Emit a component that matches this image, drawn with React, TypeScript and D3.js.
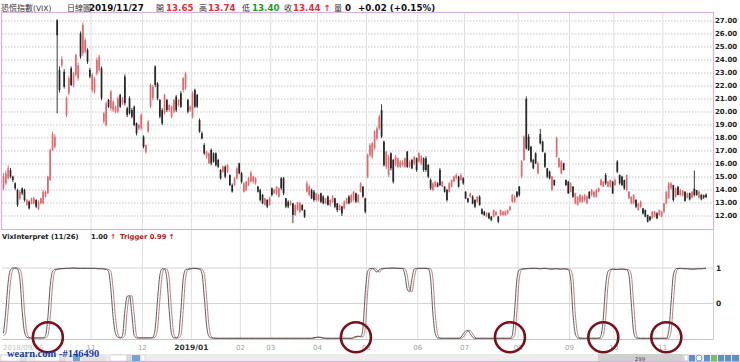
import React from "react";
import * as d3 from "d3";

type OHLC = [number, number, number, number]; // open, high, low, close

const sepOct2018: OHLC[] = [
  [14.13,15.3,14.0,15.03],[14.51,15.5,14.4,15.28],[14.9,15.9,14.8,15.67],[15.54,15.7,14.9,15.03],
  [15.03,15.1,14.6,14.77],[14.51,14.6,14.0,14.13],[14.0,14.1,12.7,12.85],[13.36,14.0,13.2,13.87],
  [14.13,14.2,13.6,13.74],[14.0,14.1,13.1,13.23],[12.85,13.3,12.8,13.23],[13.1,13.2,12.5,12.59],
  [12.97,13.4,12.9,13.36],[12.97,13.5,12.9,13.36],[13.23,13.3,12.6,12.72],[12.55,13.2,12.45,13.1],
  [12.97,13.4,12.9,13.36],[12.97,14.0,12.9,13.87],[13.49,13.95,13.4,13.87],[13.74,15.1,13.7,15.03],
  [14.77,17.2,14.7,17.08],[17.08,18.5,17.0,18.3],[17.33,18.3,17.2,18.1],[27.05,27.15,19.9,25.9],
  [23.23,23.5,21.5,21.69],[23.6,24.3,23.4,24.05],[23.1,23.3,21.8,21.95],[19.77,21.2,19.6,21.05],
  [21.44,22.8,21.3,22.59],[23.36,23.5,22.0,22.08],[22.08,23.1,21.9,22.97],[22.85,24.5,22.7,24.38],
  [22.59,23.8,22.4,23.6],[26.05,26.2,24.1,24.26],[24.51,26.9,24.3,26.7],[24.64,25.7,24.5,25.54],
  [24.77,24.9,23.7,23.87],[23.23,23.4,22.6,22.72],
];
const nov2018: OHLC[] = [
  [21.69,23.0,21.5,22.85],[21.56,22.7,21.4,22.59],[22.97,24.2,22.8,24.0],[23.23,24.4,23.1,24.26],
  [23.36,23.5,20.9,21.05],[19.26,20.0,19.1,19.9],[19.0,20.8,18.9,20.67],[20.92,21.0,20.3,20.41],
  [20.28,21.7,20.1,21.56],[20.15,20.9,20.0,20.79],[20.03,20.5,19.9,20.41],[20.03,21.2,19.9,21.05],
  [21.31,21.4,20.3,20.41],[20.67,21.15,20.55,21.05],[22.72,22.9,20.5,20.67],[20.28,20.4,19.6,19.77],
  [21.05,21.2,19.8,19.9],[20.15,20.3,19.5,19.64],[20.41,20.5,18.9,19.0],[19.13,19.2,18.2,18.36],
  [18.74,19.1,18.6,19.0],[18.74,19.9,18.6,19.77],
];
const dec2018: OHLC[] = [
  [18.1,18.2,17.2,17.33],[16.95,17.5,16.8,17.46],[18.49,19.4,18.4,19.26],[20.41,22.2,20.3,22.08],
  [21.05,22.1,20.9,21.95],[23.49,23.6,21.9,22.08],[22.2,22.3,20.9,21.05],[20.92,21.0,19.5,19.64],
  [20.15,20.3,19.0,19.13],[19.9,21.4,19.8,21.31],[20.92,21.0,20.0,20.15],[20.15,20.6,20.0,20.54],
  [19.64,20.5,19.5,20.41],[20.03,21.0,19.9,20.92],[21.18,21.3,20.0,20.15],[20.54,21.0,20.4,20.92],
  [21.44,21.6,20.3,20.41],[21.69,22.7,21.5,22.59],[21.82,23.1,21.7,22.97],[20.92,21.0,19.9,20.03],
  [20.15,20.5,20.0,20.41],
];
const jan2019: OHLC[] = [
  [19.64,21.6,19.5,21.44],[21.69,21.8,20.3,20.41],[21.31,21.4,20.3,20.41],[19.38,19.5,18.4,18.49],
  [18.36,18.5,17.9,17.97],[17.46,17.6,16.7,16.82],[16.56,17.0,16.4,16.95],[16.05,16.9,16.0,16.82],
  [17.08,17.2,15.9,16.05],[16.82,16.9,16.1,16.18],[16.82,16.9,15.8,15.92],[16.31,16.4,15.7,15.79],
  [15.54,15.6,14.8,14.9],[15.41,15.9,15.3,15.79],[15.79,15.9,14.9,15.03],[15.41,16.0,15.3,15.92],
  [15.15,15.2,14.3,14.38],[14.38,14.5,13.8,13.87],[14.38,15.0,14.3,14.9],[14.9,15.8,14.8,15.67],
  [16.05,16.1,15.2,15.28],
];
const feb2019: OHLC[] = [
  [15.28,15.4,14.5,14.64],[13.87,14.6,13.8,14.51],[14.0,14.7,13.9,14.64],[14.38,15.0,14.3,14.9],
  [14.64,15.5,14.6,15.33],[14.64,15.1,14.5,15.03],[14.51,15.0,14.4,14.9],[14.26,14.3,13.8,13.87],
  [14.0,14.1,13.1,13.23],[13.62,13.7,12.9,12.97],[12.85,13.4,12.8,13.36],[13.23,13.3,12.6,12.72],
  [12.85,13.5,12.8,13.36],
];
const mar2019: OHLC[] = [
  [14.13,14.2,13.5,13.62],[13.74,14.1,13.7,14.0],[13.74,14.3,13.6,14.26],[13.49,14.2,13.4,14.13],
  [14.9,15.0,14.0,14.13],[14.9,15.0,13.6,13.74],[13.36,13.4,12.6,12.72],[13.1,13.2,12.6,12.72],
  [12.85,13.2,12.8,13.1],[12.97,13.0,11.45,12.08],[12.08,12.9,12.0,12.85],[12.46,13.1,12.4,13.0],
  [12.33,13.1,12.2,13.0],[12.85,12.9,12.4,12.46],[12.46,12.5,11.85,11.95],[13.87,14.7,13.8,14.51],
  [13.62,14.4,13.5,14.26],[14.0,14.1,13.3,13.36],[13.87,14.0,13.1,13.23],[13.23,13.8,13.1,13.74],
];
const apr2019: OHLC[] = [
  [13.23,13.7,13.1,13.62],[13.74,13.8,13.0,13.1],[13.49,13.6,12.9,12.97],[12.97,13.4,12.9,13.36],
  [13.49,13.6,12.8,12.85],[12.85,13.3,12.7,13.23],[13.1,13.6,13.0,13.49],[13.36,13.4,12.6,12.72],
  [12.97,13.0,12.3,12.46],[12.46,12.9,12.4,12.85],[12.72,12.8,12.0,12.2],[12.59,13.2,12.5,13.1],
  [12.97,13.4,12.9,13.36],[13.49,13.6,12.9,12.97],[13.1,13.7,13.0,13.62],[13.23,13.9,13.1,13.87],
  [13.74,13.8,13.0,13.1],[13.1,13.7,13.0,13.62],[13.87,14.6,13.8,14.51],[14.26,14.3,13.4,13.49],
  [13.36,13.4,12.2,12.33],
];
const may2019: OHLC[] = [
  [15.03,16.8,14.9,16.69],[16.69,17.6,16.5,17.46],[16.56,17.7,16.4,17.59],[17.2,18.6,17.1,18.49],
  [17.97,18.9,17.8,18.74],[18.74,19.8,18.6,19.64],[20.15,20.6,18.0,18.1],[17.72,17.8,15.8,15.92],
  [15.79,17.0,15.6,16.95],[15.15,16.7,15.0,16.56],[16.82,16.9,15.5,15.67],[16.31,16.4,14.5,14.64],
  [15.92,16.7,15.8,16.56],[15.79,16.5,15.7,16.44],[15.79,16.3,15.7,16.18],[15.92,16.3,15.8,16.18],
  [15.79,16.5,15.7,16.44],[16.95,17.0,15.7,15.79],[15.79,16.3,15.7,16.18],[16.31,16.4,15.6,15.67],
  [16.05,16.6,15.9,16.56],[16.44,16.5,15.4,15.54],
];
const jun2019: OHLC[] = [
  [16.18,16.9,16.1,16.82],[16.05,16.7,15.9,16.56],[16.44,16.5,15.4,15.54],[16.44,16.6,15.4,15.54],
  [15.92,16.0,14.9,15.03],[14.77,14.9,14.0,14.13],[14.0,14.6,13.9,14.51],[14.26,14.7,14.2,14.64],
  [14.51,14.6,14.2,14.26],[15.54,15.7,14.3,14.38],[14.26,14.7,14.2,14.64],[14.26,14.3,13.8,13.87],
  [14.0,14.1,13.1,13.23],[13.87,14.6,13.8,14.51],[14.26,14.8,14.2,14.77],[14.64,15.1,14.6,15.03],
  [14.9,15.3,14.8,15.15],[15.03,15.1,14.2,14.26],[14.77,15.3,14.7,15.15],[14.9,15.0,14.4,14.51],
];
const jul2019: OHLC[] = [
  [13.87,13.9,13.3,13.36],[13.36,13.4,13.0,13.1],[13.49,13.8,13.4,13.74],[13.49,13.6,12.9,12.97],
  [13.23,13.3,12.6,12.72],[13.1,13.5,13.0,13.49],[13.49,13.6,12.8,12.85],[12.52,12.6,12.1,12.16],
  [12.33,12.4,12.0,12.08],[11.95,12.3,11.9,12.2],[12.2,12.3,11.75,11.82],[11.95,12.0,11.6,11.69],
  [11.95,12.5,11.9,12.46],[12.08,12.4,12.0,12.33],[11.95,12.0,11.45,11.56],[12.08,12.5,12.0,12.46],
  [12.08,12.4,12.0,12.33],[12.08,12.45,12.0,12.33],[12.2,12.5,12.1,12.46],[12.46,12.8,12.4,12.72],
  [13.1,13.7,13.0,13.62],[13.1,13.6,13.0,13.49],[13.87,13.9,13.4,13.49],
];
const aug2019: OHLC[] = [
  [14.26,14.3,13.5,13.62],[15.03,16.3,14.9,16.18],[16.31,18.2,16.2,18.1],[21.0,21.2,17.1,17.2],
  [18.1,18.3,17.0,17.08],[17.33,17.4,16.1,16.18],[16.31,16.4,15.6,15.67],[16.82,16.9,16.0,16.05],
  [15.28,16.2,15.2,16.05],[18.3,18.7,17.5,17.59],[17.72,17.8,16.9,16.95],[16.82,16.9,15.7,15.79],
  [15.67,15.7,14.9,15.03],[15.41,15.5,14.8,14.9],[14.0,15.1,13.9,15.03],[14.77,14.8,14.3,14.38],
  [16.56,18.1,16.5,17.97],[15.79,16.5,15.7,16.44],[15.28,16.3,15.2,16.18],[16.05,16.1,15.5,15.54],
  [14.77,14.8,14.3,14.38],[14.64,14.7,13.7,13.74],
];
const sep2019: OHLC[] = [
  [13.87,14.6,13.8,14.51],[14.26,14.3,13.4,13.49],[12.97,13.8,12.9,13.74],[12.85,13.5,12.8,13.49],
  [13.1,13.7,13.0,13.62],[13.1,13.6,13.0,13.49],[13.23,13.7,13.1,13.62],[12.97,13.6,12.9,13.49],
  [13.87,13.9,13.3,13.36],[13.62,14.1,13.5,14.0],[13.49,13.9,13.4,13.87],[13.49,14.1,13.4,14.0],
  [13.87,14.2,13.8,14.13],[14.38,14.9,14.3,14.77],[14.26,14.7,14.2,14.64],[15.15,15.3,14.4,14.51],
  [14.26,14.7,14.2,14.64],[14.26,14.8,14.2,14.77],[14.64,14.7,13.7,13.74],
];
const oct2019: OHLC[] = [
  [14.38,14.9,14.3,14.77],[16.18,16.3,15.3,15.41],[15.15,15.2,14.4,14.51],[15.03,15.1,14.3,14.38],
  [14.77,14.8,14.0,14.13],[14.0,15.2,13.9,15.15],[13.36,13.9,13.3,13.87],[12.97,13.5,12.9,13.49],
  [12.97,13.7,12.9,13.62],[13.23,13.3,12.6,12.72],[12.46,13.0,12.4,12.97],[12.72,13.2,12.6,13.1],
  [12.59,12.6,12.1,12.2],[12.46,12.5,11.9,11.95],[12.08,12.1,11.5,11.56],[11.95,12.0,11.6,11.69],
  [11.82,12.4,11.8,12.33],[11.95,12.4,11.9,12.33],[12.2,12.3,11.75,11.82],[12.08,12.5,12.0,12.46],
  [11.95,12.4,11.9,12.33],
];
const nov2019: OHLC[] = [
  [12.33,13.0,12.2,12.97],[12.97,13.9,12.9,13.87],[13.36,14.6,13.3,14.51],[14.13,14.6,14.0,14.51],
  [14.38,14.4,13.1,13.23],[13.49,14.2,13.4,14.13],[14.26,14.3,13.6,13.62],[13.62,14.1,13.5,14.0],
  [13.59,14.0,13.5,13.92],[13.87,13.9,13.1,13.16],[13.4,13.8,13.35,13.75],[13.75,13.8,13.2,13.28],
  [13.4,13.9,13.35,13.87],[14.1,15.5,13.5,13.6],[13.99,14.0,13.55,13.63],[13.4,13.95,13.35,13.87],
  [13.63,13.7,13.2,13.28],[13.6,13.65,13.3,13.42],[13.65,13.74,13.4,13.44],
];

const monthLabels = ["2018/09/06","11","12","2019/01","02","03","04","05","06","07","08","09","10","11"];
const monthBarCounts = [38,22,21,21,13,20,21,22,20,23,22,19,21,19];
const boldMonth = "2019/01";

const priceTicks = [12,13,14,15,16,17,18,19,20,21,22,23,24,25,26,27];
const indicatorTicks = [1, 0];

const vixInterpret = [
  -0.84,-0.2,0.6,0.95,1.0,1.0,0.97,0.7,-0.2,-0.8,
  -0.95,-0.97,-0.97,-0.97,-0.97,-0.97,-0.97,-0.97,-0.9,-0.4,
  0.5,0.9,0.96,0.97,0.98,0.98,0.99,0.99,0.99,1.0,
  1.0,0.99,0.99,0.99,0.99,0.99,0.99,0.99,0.99,0.99,
  0.98,0.98,0.98,0.97,0.96,0.9,0.4,-0.4,-0.85,-0.95,
  -0.97,-0.9,-0.2,0.2,0.22,-0.3,-0.9,-0.97,-0.97,-0.97,
  -0.97,-0.97,-0.97,-0.97,-0.95,-0.7,0.1,0.8,0.98,0.97,
  0.7,-0.2,-0.85,-0.97,-0.97,-0.9,-0.2,0.7,0.95,0.97,
  0.98,0.99,0.99,0.98,0.97,0.85,0.2,-0.6,-0.93,-0.97,
  -0.98,-0.98,-0.98,-0.98,-0.98,-0.98,-0.98,-0.98,-0.98,-0.98,
  -0.98,-0.98,-0.98,-0.98,-0.98,-0.98,-0.98,-0.98,-0.98,-0.98,
  -0.98,-0.98,-0.98,-0.98,-0.98,-0.98,-0.98,-0.98,-0.98,-0.98,
  -0.98,-0.98,-0.98,-0.98,-0.98,-0.98,-0.98,-0.98,-0.98,-0.98,
  -0.98,-0.98,-0.98,-0.96,-0.95,-0.95,-0.96,-0.98,-0.98,-0.98,
  -0.98,-0.98,-0.98,-0.98,-0.98,-0.98,-0.98,-0.98,-0.98,-0.98,
  -0.95,-0.93,-0.92,-0.94,-0.7,0.3,0.9,0.98,0.99,0.95,
  0.88,0.95,0.98,0.99,0.99,0.99,1.0,1.0,0.99,0.99,
  0.99,0.98,0.8,0.4,0.33,0.7,0.97,0.99,0.99,0.99,
  0.99,0.99,0.98,0.7,-0.3,-0.85,-0.97,-0.98,-0.98,-0.98,
  -0.98,-0.98,-0.98,-0.98,-0.98,-0.98,-0.95,-0.85,-0.78,-0.76,
  -0.85,-0.95,-0.98,-0.98,-0.98,-0.98,-0.98,-0.98,-0.98,-0.98,
  -0.98,-0.98,-0.98,-0.98,-0.98,-0.98,-0.98,-0.98,-0.9,-0.2,
  0.7,0.95,0.97,0.98,0.98,0.99,0.99,0.99,0.99,0.98,
  0.98,0.99,0.99,0.98,0.97,0.97,0.98,0.98,0.97,0.97,
  0.98,0.97,0.95,0.7,-0.3,-0.85,-0.97,-0.98,-0.98,-0.98,
  -0.98,-0.98,-0.98,-0.98,-0.98,-0.98,-0.9,-0.4,0.5,0.9,
  0.96,0.97,0.96,0.96,0.97,0.97,0.96,0.95,0.8,0.0,
  -0.8,-0.97,-0.98,-0.98,-0.98,-0.98,-0.98,-0.98,-0.98,-0.98,
  -0.98,-0.98,-0.98,-0.98,-0.98,-0.8,0.0,0.8,0.97,0.99,
  0.99,0.98,0.98,0.98,0.97,0.97,0.97,0.98,0.98,0.98,
  0.99,1.0,
];
const trigger = [
  -0.9,-0.84,-0.2,0.6,0.95,1.0,1.0,0.97,0.7,-0.2,
  -0.8,-0.95,-0.97,-0.97,-0.97,-0.97,-0.97,-0.97,-0.97,-0.9,
  -0.4,0.5,0.9,0.96,0.97,0.98,0.98,0.99,0.99,0.99,
  1.0,1.0,0.99,0.99,0.99,0.99,0.99,0.99,0.99,0.99,
  0.99,0.98,0.98,0.98,0.97,0.96,0.9,0.4,-0.4,-0.85,
  -0.95,-0.97,-0.9,-0.2,0.2,0.22,-0.3,-0.9,-0.97,-0.97,
  -0.97,-0.97,-0.97,-0.97,-0.97,-0.95,-0.7,0.1,0.8,0.98,
  0.97,0.7,-0.2,-0.85,-0.97,-0.97,-0.9,-0.2,0.7,0.95,
  0.97,0.98,0.99,0.99,0.98,0.97,0.85,0.2,-0.6,-0.93,
  -0.97,-0.98,-0.98,-0.98,-0.98,-0.98,-0.98,-0.98,-0.98,-0.98,
  -0.98,-0.98,-0.98,-0.98,-0.98,-0.98,-0.98,-0.98,-0.98,-0.98,
  -0.98,-0.98,-0.98,-0.98,-0.98,-0.98,-0.98,-0.98,-0.98,-0.98,
  -0.98,-0.98,-0.98,-0.98,-0.98,-0.98,-0.98,-0.98,-0.98,-0.98,
  -0.98,-0.98,-0.98,-0.98,-0.96,-0.95,-0.95,-0.96,-0.98,-0.98,
  -0.98,-0.98,-0.98,-0.98,-0.98,-0.98,-0.98,-0.98,-0.98,-0.98,
  -0.98,-0.95,-0.93,-0.92,-0.94,-0.7,0.3,0.9,0.98,0.99,
  0.95,0.88,0.95,0.98,0.99,0.99,0.99,1.0,1.0,0.99,
  0.99,0.99,0.98,0.8,0.4,0.33,0.7,0.97,0.99,0.99,
  0.99,0.99,0.99,0.98,0.7,-0.3,-0.85,-0.97,-0.98,-0.98,
  -0.98,-0.98,-0.98,-0.98,-0.98,-0.98,-0.98,-0.95,-0.85,-0.78,
  -0.76,-0.85,-0.95,-0.98,-0.98,-0.98,-0.98,-0.98,-0.98,-0.98,
  -0.98,-0.98,-0.98,-0.98,-0.98,-0.98,-0.98,-0.98,-0.98,-0.9,
  -0.2,0.7,0.95,0.97,0.98,0.98,0.99,0.99,0.99,0.99,
  0.98,0.98,0.99,0.99,0.98,0.97,0.97,0.98,0.98,0.97,
  0.97,0.98,0.97,0.95,0.7,-0.3,-0.85,-0.97,-0.98,-0.98,
  -0.98,-0.98,-0.98,-0.98,-0.98,-0.98,-0.98,-0.9,-0.4,0.5,
  0.9,0.96,0.97,0.96,0.96,0.97,0.97,0.96,0.95,0.8,
  0.0,-0.8,-0.97,-0.98,-0.98,-0.98,-0.98,-0.98,-0.98,-0.98,
  -0.98,-0.98,-0.98,-0.98,-0.98,-0.98,-0.8,0.0,0.8,0.97,
  0.99,0.99,0.98,0.98,0.98,0.97,0.97,0.97,0.98,0.98,
  0.98,0.99,
];

const circledBars = [19, 151, 217, 257, 284];
const circledLevel = -0.95;

const headerTitleCjk = "恐慌指數";
const headerTitleLatin = "(VIX)";
const headerPeriod = "日線圖";
const headerDate = "2019/11/27";
const headerChange = "+0.02 (+0.15%)";
const headerVolume = "0";
const indicatorName = "VixInterpret (11/26)";
const indicatorValue = "1.00";
const triggerValue = "0.99";
const watermark = "wearn.com -#146490";
const barCountLabel = "299";

const UI = "'DejaVu Sans', Verdana, sans-serif";
const CJK = "'Noto Sans CJK TC', 'Noto Sans CJK SC', sans-serif";
const RED = "#e0303a";
const GREEN = "#1f9a2a";
const UP = "#e06a6e";
const DOWN = "#262626";
const FRAME = "#d9aee0";

export default function App() {
  const candles: OHLC[] = [
    ...sepOct2018, ...nov2018, ...dec2018, ...jan2019, ...feb2019, ...mar2019, ...apr2019,
    ...may2019, ...jun2019, ...jul2019, ...aug2019, ...sep2019, ...oct2019, ...nov2019,
  ];
  const n = candles.length;
  const left = 2, right = 713, top = 13, bottom = 229;
  const x = d3.scaleLinear().domain([0, n - 1]).range([3.5, 706]);
  const y = d3.scaleLinear().domain([11, 27.615]).range([bottom, top]);
  const yi = d3.scaleLinear().domain([-1, 1]).range([339, 268]);
  const starts: number[] = [];
  monthBarCounts.reduce((acc, c) => { starts.push(acc); return acc + c; }, 0);

  const line = d3.line<number>().x((_, i) => x(i)).y((v) => yi(v)).curve(d3.curveMonotoneX);
  const last = candles[n - 1];
  const bw = 1.7;

  return (
    <svg width={740} height={362} style={{ position: "absolute", left: 0, top: 0, background: "#fff" }}
      fontFamily={UI}>
      <rect x={0} y={0} width={740} height={362} fill="#fff" />
      {/* header */}
      <g>
        <text x={1} y={11} fontFamily={CJK} fontSize={8} fill="#333">{headerTitleCjk}<tspan fontFamily={UI} fontSize={7.5}>{headerTitleLatin}</tspan></text>
        <text x={67} y={11} fontFamily={CJK} fontSize={8} fill="#333">{headerPeriod}</text>
        <text x={89} y={11} fontWeight="bold" fontSize={8.7} fill="#111">{headerDate}</text>
        <text x={156} y={11} fontFamily={CJK} fontSize={8} fill="#333">開</text>
        <text x={166} y={11} fontWeight="bold" fontSize={8.7} fill={RED}>{last[0].toFixed(2)}</text>
        <text x={199} y={11} fontFamily={CJK} fontSize={8} fill="#333">高</text>
        <text x={208} y={11} fontWeight="bold" fontSize={8.7} fill={RED}>{last[1].toFixed(2)}</text>
        <text x={242} y={11} fontFamily={CJK} fontSize={8} fill="#333">低</text>
        <text x={252} y={11} fontWeight="bold" fontSize={8.7} fill={GREEN}>{last[2].toFixed(2)}</text>
        <text x={284} y={11} fontFamily={CJK} fontSize={8} fill="#333">收</text>
        <text x={293} y={11} fontWeight="bold" fontSize={8.7} fill={RED}>{last[3].toFixed(2)} ↑</text>
        <text x={334} y={11} fontFamily={CJK} fontSize={8} fill="#333">量</text>
        <text x={345} y={11} fontWeight="bold" fontSize={8.7} fill="#111">{headerVolume}</text>
        <text x={358} y={11} fontWeight="bold" fontSize={8.7} fill="#111">{headerChange}</text>
      </g>

      {/* main panel grid */}
      {priceTicks.map((t) => (
        <line key={"hg" + t} x1={left} x2={right} y1={y(t)} y2={y(t)} stroke="#b8b8b8"
          strokeWidth={0.8} strokeDasharray="1.5,1.5" />
      ))}
      {starts.slice(1).map((s, k) => (
        <line key={"vg" + k} x1={x(s - 0.5)} x2={x(s - 0.5)} y1={top} y2={339} stroke="#dedede" strokeWidth={1} />
      ))}

      {/* candles */}
      {candles.map(([o, h, l, c], i) => {
        const col = c >= o ? UP : DOWN;
        const yt = y(Math.max(o, c));
        const yb = y(Math.min(o, c));
        return (
          <g key={"c" + i}>
            <line x1={x(i)} x2={x(i)} y1={y(h)} y2={y(l)} stroke={col} strokeWidth={0.9} />
            <rect x={x(i) - bw / 2} y={yt} width={bw} height={Math.max(0.9, yb - yt)} fill={col} />
          </g>
        );
      })}

      {/* main frame */}
      <rect x={left - 0.5} y={top - 0.5} width={right - left + 1} height={bottom - top + 1} fill="none"
        stroke={FRAME} strokeWidth={1.2} />

      {/* price axis labels */}
      {priceTicks.map((t) => (
        <text key={"pt" + t} x={715} y={y(t) + 2.5} fontSize={7} fontWeight="bold" fill="#222">{t.toFixed(2)}</text>
      ))}

      {/* indicator header */}
      <text x={2} y={239} fontSize={6.8} fontWeight="bold" fill="#222">{indicatorName}</text>
      <text x={91} y={239} fontSize={6.8} fontWeight="bold" fill="#222">{indicatorValue} <tspan fill={RED}>↑</tspan></text>
      <text x={120} y={239} fontSize={6.8} fontWeight="bold" fill="#b01818">Trigger {triggerValue} ↑</text>

      {/* indicator grid */}
      {indicatorTicks.map((t) => (
        <line key={"ig" + t} x1={left} x2={right} y1={yi(t)} y2={yi(t)} stroke="#d4d4d4" strokeWidth={1} />
      ))}
      <line x1={right + 0.5} x2={right + 0.5} y1={bottom} y2={339.5} stroke="#cfcfcf" strokeWidth={1} />
      <line x1={left} x2={right + 0.5} y1={339.5} y2={339.5} stroke="#d4bcd4" strokeWidth={1} />
      {indicatorTicks.map((t) => (
        <text key={"it" + t} x={716} y={yi(t) + 2.5} fontSize={7.5} fontWeight="bold" fill="#222">{t}</text>
      ))}

      {/* indicator lines */}
      <path d={line(trigger) || ""} fill="none" stroke="#b07070" strokeWidth={0.9} />
      <path d={line(vixInterpret) || ""} fill="none" stroke="#4a4a4a" strokeWidth={0.9} />

      {/* month labels */}
      {monthLabels.map((lab, k) => {
        const first = k === 0;
        const bold = lab === boldMonth;
        return (
          <text key={"ml" + k} x={first ? 3 : x(starts[k] - 0.5)} y={350}
            textAnchor={first ? "start" : "middle"} fontSize={bold ? 7.5 : 7}
            fontWeight={bold ? "bold" : "normal"} fill={bold ? "#333" : first ? "#c4c4c4" : "#a0a0a0"}>{lab}</text>
        );
      })}

      {/* circles */}
      {circledBars.map((b) => (
        <circle key={"rc" + b} cx={x(b)} cy={yi(circledLevel)} r={15} fill="none" stroke="#7a0f1e" strokeWidth={2.6} />
      ))}

      {/* toolbar strip */}
      <rect x={0} y={354} width={740} height={8} fill="#ececec" />
      <rect x={1} y={355} width={20} height={6} fill="#fff" stroke="#bbb" strokeWidth={0.5} />
      <rect x={21} y={355} width={5} height={6} fill="#e4e4e4" stroke="#bbb" strokeWidth={0.5} />
      <rect x={34} y={355} width={26} height={6} fill="#fff" stroke="#bbb" strokeWidth={0.5} />
      <rect x={60} y={355} width={5} height={6} fill="#e4e4e4" stroke="#bbb" strokeWidth={0.5} />
      <rect x={73} y={355} width={7} height={6} fill="#6fa3d9" />
      <rect x={82} y={355} width={24} height={6} fill="#e2e2e2" />
      <rect x={110} y={355} width={17} height={6} fill="#fff" stroke="#bbb" strokeWidth={0.5} />
      <rect x={127} y={355} width={4} height={6} fill="#ddd" stroke="#bbb" strokeWidth={0.5} />
      <rect x={132} y={355} width={8} height={6} fill="#6fa3d9" />
      <rect x={141} y={355} width={4} height={6} fill="#fff" stroke="#bbb" strokeWidth={0.5} />
      <rect x={598} y={354} width={85} height={8} fill="#cfcfcf" />
      <text x={640} y={360.5} fontSize={5.5} textAnchor="middle" fill="#444">{barCountLabel}</text>
      <rect x={684} y={355} width={4} height={6} fill="#fff" stroke="#999" strokeWidth={0.5} />
      <rect x={689} y={355} width={6} height={6} fill="#5a8fd0" />
      <circle cx={699} cy={358} r={3} fill="#fff" stroke="#6a9ad6" strokeWidth={1} />
      <rect x={704} y={355} width={6} height={6} fill="#5a8fd0" />
      <rect x={711} y={355} width={6} height={6} fill="#7cc05a" />
      <rect x={718} y={355} width={6} height={6} fill="#5a8fd0" />
      <rect x={725} y={355} width={6} height={6} fill="#5a8fd0" />
      <rect x={732} y={355} width={7} height={6} fill="#5a8fd0" />
      <line x1={0} x2={740} y1={361.5} y2={361.5} stroke={FRAME} strokeWidth={1} />

      {/* watermark */}
      <text x={7} y={357} fontFamily="'Liberation Serif', 'DejaVu Serif', serif" fontWeight="bold" fontSize={10.5}
        fill="#1c3c9c">{watermark}</text>
    </svg>
  );
}
